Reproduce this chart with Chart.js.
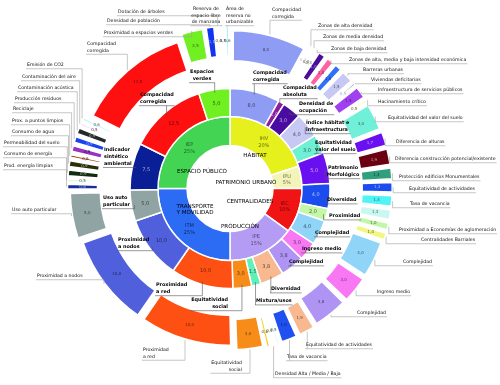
<!DOCTYPE html>
<html>
<head>
<meta charset="utf-8">
<script src="https://cdn.jsdelivr.net/npm/chart.js@4.4.0/dist/chart.umd.min.js"></script>
<style>
  html, body { margin: 0; padding: 0; background: #fff; }
</style>
</head>
<body>
<canvas id="myChart" width="500" height="385"></canvas>
<script>
// inner ring: dimensions (weights in %)
var dimensions = ['HÁBITAT', 'PATRIMONIO URBANO', 'CENTRALIDADES', 'PRODUCCIÓN', 'TRANSPORTE\nY MOVILIDAD', 'ESPACIO PÚBLICO'];
var dimCodes = ['IHV', 'IPU', 'IEC', 'IPE', 'ITM', 'IEP'];
var dimWeights = [20, 5, 10, 15, 25, 25];
var dimColors = ['#e6f01c', '#f2f4b8', '#f01414', '#b49cf4', '#2c6cf4', '#44d454'];

// middle ring: indicators
var indicators = ['Compacidad\ncorregida', 'Compacidad\nabsoluta', 'Densidad de\nocupación', 'Índice hábitat e\ninfraestructura',
    'Equitatividad\nvalor del suelo', 'Patrimonio\nMorfológico', 'Diversidad', 'Proximidad', 'Complejidad',
    'Ingreso medio', 'Complejidad', 'Diversidad', 'Mixtura/usos', 'Equitatividad\nsocial',
    'Proximidad\na red', 'Proximidad\na nodos', 'Uso auto\nparticular', 'Indicador\nsintético\nambiental',
    'Compacidad\ncorregida', 'Espacios\nverdes'];
var indicatorValues = [8.0, 1.0, 3.0, 4.0, 3.0, 5.0, 4.0, 2.0, 4.0, 3.0, 3.8, 3.8, 1.5, 3.0, 10.0, 10.0, 5.0, 7.5, 12.5, 5.0];
var indicatorColors = ['#8e9cf4', '#8a1ea0', '#4a0ca0', '#c8c8f4', '#6ef0d4', '#6a10f0', '#1a4cf0', '#c4f8a8', '#90d4f8',
    '#f878f4', '#b094f4', '#f8b890', '#60f0b8', '#f88c18', '#ff5014', '#5060dc', '#90a4a4', '#0a1e96', '#ff1010', '#70f020'];

// outer ring: sub-indicators
var subIndicators = ['Compacidad\ncorregida', 'Zonas de alta densidad', 'Zonas de media densidad', 'Zonas de baja densidad',
    'Zonas de alta, media y baja intensidad económica', 'Zonas de alta, media y baja intensidad económica', 'Zonas de alta, media y baja intensidad económica',
    'Barreras urbanas', 'Viviendas deficitarias', 'Infraestructura de servicios públicos', 'Hacinamiento crítico',
    'Equitatividad del valor del suelo', 'Diferencia de alturas', 'Diferencia construcción potencial/existente',
    'Protección edificios Monumentales', 'Equitatividad de actividades', 'Tasa de vacancia', '',
    'Proximidad a Economías de aglomeración', 'Centralidades Barriales', 'Complejidad', 'Ingreso medio', 'Complejidad',
    'Equitatividad de actividades', 'Tasa de vacancia', 'Densidad Alta / Media / Baja', 'Densidad Alta / Media / Baja',
    'Densidad Alta / Media / Baja', 'Equitatividad\nsocial', 'Proximidad\na red', 'Proximidad a nodos', 'Uso auto particular',
    'Prod. energía limpias', 'Consumo de energía', 'Permeabilidad del suelo', 'Consumo de agua', 'Prox. a puntos limpios',
    'Reciclaje', 'Producción residuos', 'Contaminación acústica', 'Contaminación del aire', 'Emisión de CO2',
    'Compacidad\ncorregida', 'Proximidad a espacios verdes', 'Densidad de población', 'Dotación de árboles',
    'Reserva de\nespacio libre\nde manzana', 'Área de\nreserva no\nurbanizable'];
var subValues = [8.0, 0.3, 0.4, 0.3, 1.0, 1.0, 1.0, 1.5, 0.5, 1.5, 0.5, 3.0, 1.7, 1.9, 1.4, 1.3, 1.4, 1.3, 1.0, 1.0, 4.0,
    3.0, 3.8, 1.9, 1.9, 0.5, 0.4, 0.6, 3.0, 10.0, 10.0, 5.0, 0.8, 0.5, 0.9, 0.9, 0.6, 0.9, 0.9, 0.9, 0.5, 0.6,
    12.5, 2.5, 1.1, 0.4, 0.45, 0.55];
var subColors = ['#8e9cf4', '#8a1ea0', '#f0f0b8', '#c4f8f0', '#4a0c9c', '#ff60a0', '#3070f8', '#c8c8f4', '#0a0a90', '#a040f0',
    '#e8f020', '#70f0d8', '#6a10f0', '#6a0010', '#2ea07c', '#1a4cf0', '#50f4f4', '#c8f8f0', '#c0f8a8', '#f0f880', '#90d4f8',
    '#f878f4', '#b094f4', '#f8b890', '#2050f0', '#78f0c8', '#d8f040', '#f8c818', '#f88c18', '#ff5014', '#5060dc', '#90a4a4',
    '#1a2ea0', '#48e050', '#102c10', '#283008', '#a03c14', '#9434c0', '#1844f0', '#222a2a', '#f078f0', '#c4f8f0',
    '#ff1010', '#70f020', '#1034f0', '#f0f020', '#a040f0', '#70f0e0'];

// label placement: [index, x, y, align]
var midLabelLayout = [
    [0, 253, 73, 'left'], [1, 283, 88, 'left'], [2, 299, 104, 'left'], [3, 306, 123, 'left'], [4, 315, 143, 'left'],
    [5, 343, 168, 'center'], [6, 327, 200, 'left'], [7, 329, 216, 'left'], [8, 315, 233, 'left'], [9, 302, 249, 'left'],
    [10, 289, 262, 'left'], [11, 271, 289, 'left'], [12, 256, 301, 'left'], [13, 228, 300, 'right'], [14, 156, 285, 'left'],
    [15, 118, 240, 'left'], [16, 103, 198, 'left'], [17, 104, 150, 'left'], [18, 140, 95, 'left'], [19, 202, 72, 'center']
];
var subLabelLayout = [
    [0, 272, 10, 'left'], [1, 318, 26, 'left'], [2, 323, 37, 'left'], [3, 331, 49, 'left'], [5, 349, 60, 'left'],
    [7, 363, 70, 'left'], [8, 371, 80, 'left'], [9, 378, 90, 'left'], [10, 378, 102, 'left'], [11, 388, 118, 'left'],
    [12, 396, 142, 'left'], [13, 395, 159, 'left'], [14, 399, 177, 'left'], [15, 409, 189, 'left'], [16, 410, 204, 'left'],
    [18, 399, 230, 'left'], [19, 421, 240, 'left'], [20, 403, 262, 'left'], [21, 377, 292, 'left'], [22, 357, 313, 'left'],
    [23, 306, 345, 'left'], [24, 287, 357, 'left'], [26, 275, 374, 'left'], [28, 242, 363, 'right'], [29, 143, 350, 'left'],
    [30, 37, 276, 'left'], [31, 12, 210, 'left'], [32, 4, 166, 'left'], [33, 4, 154, 'left'], [34, 4, 143, 'left'],
    [35, 12, 132, 'left'], [36, 12, 121, 'left'], [37, 13, 109, 'left'], [38, 15, 99, 'left'], [39, 18, 88, 'left'],
    [40, 22, 77, 'left'], [41, 27, 65, 'left'], [42, 87, 44, 'left'], [43, 104, 33, 'left'], [44, 107, 21, 'left'],
    [45, 118, 12, 'left'], [46, 206, 9, 'center'], [47, 226, 9, 'left']
];
// dimension names inside the hole, offset from centre
var dimNameOffsets = [[25, -33], [16, -6], [20, 13], [10, 38], [-35, 21], [-28, -17]];

var FONT = '"DejaVu Sans", Verdana, sans-serif';

function rgbOf(h) {
    var n = parseInt(h.slice(1), 16);
    return [n >> 16 & 255, n >> 8 & 255, n & 255];
}
function shade(h, k) {
    var c = rgbOf(h), t = k < 0 ? 0 : 255, a = Math.abs(k);
    return 'rgb(' + c.map(function (v) { return Math.round(v + (t - v) * a); }).join(',') + ')';
}
function valueColor(h) {
    var c = rgbOf(h);
    var lum = 0.299 * c[0] + 0.587 * c[1] + 0.114 * c[2];
    return lum < 82 ? shade(h, 0.65) : shade(h, -0.6);
}
function fmt(v) {
    return v.toFixed(1).replace('.', ',');
}

// geometry of an arc as Chart.js draws it (including offset)
function geom(arc) {
    var a = (arc.startAngle + arc.endAngle) / 2;
    var off = (arc.options.offset || 0) / 4;
    var fix = 1 - Math.sin(Math.min(Math.PI, arc.endAngle - arc.startAngle));
    return {
        a: a,
        cx: arc.x + Math.cos(a) * off,
        cy: arc.y + Math.sin(a) * off,
        rIn: arc.innerRadius + off * fix,
        rOut: arc.outerRadius + off * fix
    };
}
function at(g, r) {
    return { x: g.cx + Math.cos(g.a) * r, y: g.cy + Math.sin(g.a) * r };
}

function textBlock(ctx, text, x, y, align, lh) {
    var lines = text.split('\n'), w = 0;
    ctx.textAlign = align;
    ctx.textBaseline = 'middle';
    lines.forEach(function (s, k) {
        ctx.fillText(s, x, y + k * lh);
        w = Math.max(w, ctx.measureText(s).width);
    });
    var x0 = align === 'left' ? x : (align === 'right' ? x - w : x - w / 2);
    return { x0: x0, x1: x0 + w, yb: y + (lines.length - 1) * lh + lh / 2 + 0.5 };
}

function leader(ctx, box, p) {
    var y = box.yb;
    ctx.beginPath();
    var x0 = Math.min(box.x0 - 1, p.x), x1 = Math.max(box.x1 + 1, p.x);
    ctx.moveTo(x0, y);
    ctx.lineTo(x1, y);
    ctx.moveTo(p.x, y);
    ctx.lineTo(p.x, p.y);
    ctx.stroke();
}

var sunburstText = {
    id: 'sunburstText',
    afterDatasetsDraw: function (chart) {
        var ctx = chart.ctx;
        var outerArcs = chart.getDatasetMeta(0).data;
        var midArcs = chart.getDatasetMeta(2).data;
        var innerArcs = chart.getDatasetMeta(3).data;
        ctx.save();

        // values inside rings
        ctx.textAlign = 'center';
        ctx.textBaseline = 'middle';
        ctx.font = '4px ' + FONT;
        outerArcs.forEach(function (arc, i) {
            var g = geom(arc), p = at(g, (g.rIn + g.rOut) / 2);
            ctx.fillStyle = valueColor(subColors[i]);
            ctx.fillText(fmt(subValues[i]), p.x, p.y);
        });
        ctx.font = '5px ' + FONT;
        midArcs.forEach(function (arc, i) {
            var g = geom(arc), p = at(g, (g.rIn + g.rOut) / 2);
            ctx.fillStyle = valueColor(indicatorColors[i]);
            ctx.fillText(fmt(indicatorValues[i]), p.x, p.y);
        });
        innerArcs.forEach(function (arc, i) {
            var g = geom(arc), p = at(g, (g.rIn + g.rOut) / 2);
            ctx.fillStyle = shade(dimColors[i], i === 4 ? -0.65 : -0.55);
            ctx.fillText(dimCodes[i], p.x, p.y - 3);
            ctx.fillText(dimWeights[i] + '%', p.x, p.y + 3.5);
        });

        // dimension names
        var c0 = innerArcs[0];
        ctx.fillStyle = '#000';
        ctx.font = '5.6px ' + FONT;
        dimensions.forEach(function (name, i) {
            var o = dimNameOffsets[i];
            var lines = name.split('\n');
            lines.forEach(function (s, k) {
                ctx.fillText(s, c0.x + o[0], c0.y + o[1] + (k - (lines.length - 1) / 2) * 6.5);
            });
        });

        // indicator labels (bold) with leaders
        ctx.lineWidth = 0.6;
        ctx.strokeStyle = '#555';
        ctx.fillStyle = '#000';
        ctx.font = 'bold 4.9px ' + FONT;
        midLabelLayout.forEach(function (l) {
            var g = geom(midArcs[l[0]]);
            var box = textBlock(ctx, indicators[l[0]], l[1], l[2], l[3], 6.8);
            leader(ctx, box, at(g, g.rOut - 3));
        });

        // sub-indicator labels with leaders
        ctx.strokeStyle = '#a0a0a0';
        ctx.fillStyle = '#111';
        ctx.font = '4.65px ' + FONT;
        subLabelLayout.forEach(function (l) {
            var g = geom(outerArcs[l[0]]);
            var box = textBlock(ctx, subIndicators[l[0]], l[1], l[2], l[3], 6.5);
            leader(ctx, box, at(g, g.rOut + 1));
        });
        ctx.restore();
    }
};

var ctx = document.getElementById('myChart').getContext('2d');
var myChart = new Chart(ctx, {
    type: 'doughnut',
    data: {
        labels: subIndicators,
        datasets: [{
            data: subValues,
            backgroundColor: subColors,
            borderColor: '#ffffff',
            borderWidth: 1.5,
            offset: 40,
            weight: 30
        }, {
            data: [1],
            backgroundColor: 'rgba(0,0,0,0)',
            borderWidth: 0,
            weight: 13
        }, {
            data: indicatorValues,
            backgroundColor: indicatorColors,
            borderColor: '#ffffff',
            borderWidth: 1.5,
            weight: 28
        }, {
            data: dimWeights,
            backgroundColor: dimColors,
            borderColor: '#ffffff',
            borderWidth: 1.5,
            weight: 29
        }]
    },
    options: {
        responsive: false,
        animation: false,
        events: [],
        radius: 143,
        cutout: '30.07%',
        hoverOffset: 0,
        layout: { padding: { left: 0, right: 40, top: 0, bottom: 8 } },
        plugins: {
            legend: { display: false },
            tooltip: { enabled: false }
        }
    },
    plugins: [sunburstText]
});
</script>
</body>
</html>
